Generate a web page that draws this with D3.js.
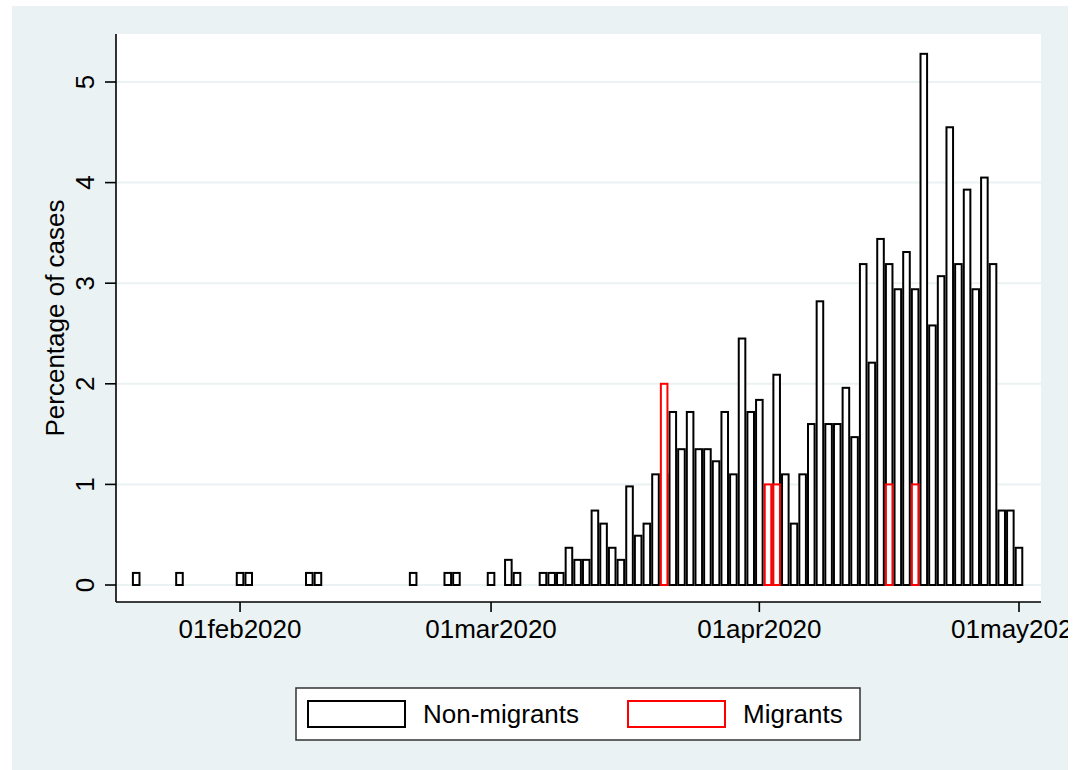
<!DOCTYPE html>
<meta charset="utf-8">
<style>
body { margin: 0; background: #fff; }
svg { display: block; font-family: "Liberation Sans", Arial, Helvetica, sans-serif; }
.grid { stroke: #eaf2f3; stroke-width: 2; }
.axis-line { stroke: #000; stroke-width: 1.6; }
.bar { fill: #fff; stroke-width: 2; }
</style>
<svg width="1068" height="770"></svg>
<script src="https://d3js.org/d3.v7.min.js"></script>
<script>

// daily percentage of cases
var nonMigrantDates = ["2020-01-20","2020-01-25","2020-02-01","2020-02-02","2020-02-09","2020-02-10",
  "2020-02-21","2020-02-25","2020-02-26","2020-03-01","2020-03-03","2020-03-04",
  "2020-03-07","2020-03-08","2020-03-09","2020-03-10","2020-03-11","2020-03-12","2020-03-13",
  "2020-03-14","2020-03-15","2020-03-16","2020-03-17","2020-03-18","2020-03-19","2020-03-20",
  "2020-03-21","2020-03-22","2020-03-23","2020-03-24","2020-03-25","2020-03-26","2020-03-27",
  "2020-03-28","2020-03-29","2020-03-30","2020-03-31","2020-04-01","2020-04-03","2020-04-04",
  "2020-04-05","2020-04-06","2020-04-07","2020-04-08","2020-04-09","2020-04-10","2020-04-11",
  "2020-04-12","2020-04-13","2020-04-14","2020-04-15","2020-04-16","2020-04-17","2020-04-18",
  "2020-04-19","2020-04-20","2020-04-21","2020-04-22","2020-04-23","2020-04-24","2020-04-25",
  "2020-04-26","2020-04-27","2020-04-28","2020-04-29","2020-04-30","2020-05-01"];
var nonMigrantPct = [0.12,0.12,0.12,0.12,0.12,0.12,
  0.12,0.12,0.12,0.12,0.25,0.12,
  0.12,0.12,0.12,0.37,0.25,0.25,0.74,
  0.61,0.37,0.25,0.98,0.49,0.61,1.10,
  1.10,1.72,1.35,1.72,1.35,1.35,1.23,
  1.72,1.10,2.45,1.72,1.84,2.09,1.10,
  0.61,1.10,1.60,2.82,1.60,1.60,1.96,
  1.47,3.19,2.21,3.44,3.19,2.94,3.31,
  2.94,5.28,2.58,3.07,4.55,3.19,3.93,
  2.94,4.05,3.19,0.74,0.74,0.37];

var migrantDates = ["2020-03-21","2020-04-02","2020-04-03","2020-04-16","2020-04-19"];
var migrantPct = [2, 1, 1, 1, 1];

var yTicks = [0, 1, 2, 3, 4, 5];
var xTickDates = ["2020-02-01","2020-03-01","2020-04-01","2020-05-01"];
var xTickLabels = ["01feb2020","01mar2020","01apr2020","01may2020"];

var parse = d3.utcParse("%Y-%m-%d");
var svg = d3.select("svg");

var plot = {left: 116, right: 1041, top: 34, bottom: 602};

var x = d3.scaleUtc()
    .domain([new Date(Date.UTC(2020, 0, 17, 16)), new Date(Date.UTC(2020, 4, 3, 13))])
    .range([plot.left, plot.right]);
var y = d3.scaleLinear().domain([0, 5]).range([585, 82]);

var dayW = x(parse("2020-02-02")) - x(parse("2020-02-01"));
var barW = dayW * 0.76;

// graph region + plot region
svg.append("rect").attr("x", 12).attr("y", 6).attr("width", 1056).attr("height", 764).attr("fill", "#eaf2f3");
svg.append("rect").attr("x", plot.left).attr("y", plot.top)
    .attr("width", plot.right - plot.left).attr("height", plot.bottom - plot.top).attr("fill", "#fff");

svg.selectAll(".grid").data(yTicks).enter().append("line")
    .attr("class", "grid")
    .attr("x1", plot.left).attr("x2", plot.right)
    .attr("y1", function(d) { return y(d); }).attr("y2", function(d) { return y(d); });

function bars(dates, vals, color, cls) {
  var data = dates.map(function(d, i) { return {date: parse(d), v: vals[i]}; });
  svg.selectAll("." + cls).data(data).enter().append("rect")
      .attr("class", "bar " + cls)
      .attr("stroke", color)
      .attr("x", function(d) { return x(d.date) - barW / 2; })
      .attr("y", function(d) { return y(d.v); })
      .attr("width", barW)
      .attr("height", function(d) { return y(0) - y(d.v); });
}
bars(nonMigrantDates, nonMigrantPct, "#000", "nonmig");
bars(migrantDates, migrantPct, "#ff0000", "mig");

// y axis
svg.append("line").attr("class", "axis-line")
    .attr("x1", plot.left).attr("x2", plot.left).attr("y1", plot.top).attr("y2", plot.bottom);
svg.selectAll(".ytick").data(yTicks).enter().append("line")
    .attr("class", "axis-line")
    .attr("x1", 105).attr("x2", plot.left)
    .attr("y1", function(d) { return y(d); }).attr("y2", function(d) { return y(d); });
svg.selectAll(".ylab").data(yTicks).enter().append("text")
    .attr("transform", function(d) { return "translate(94," + y(d) + ") rotate(-90)"; })
    .attr("text-anchor", "middle")
    .attr("font-size", 26)
    .text(function(d) { return d; });
svg.append("text")
    .attr("transform", "translate(64," + ((plot.top + plot.bottom) / 2) + ") rotate(-90)")
    .attr("text-anchor", "middle")
    .attr("font-size", 26)
    .text("Percentage of cases");

// x axis
svg.append("line").attr("class", "axis-line")
    .attr("x1", plot.left).attr("x2", plot.right).attr("y1", plot.bottom).attr("y2", plot.bottom);
svg.selectAll(".xtick").data(xTickDates).enter().append("line")
    .attr("class", "axis-line")
    .attr("x1", function(d) { return x(parse(d)); }).attr("x2", function(d) { return x(parse(d)); })
    .attr("y1", plot.bottom).attr("y2", 612);
svg.selectAll(".xlab").data(xTickDates).enter().append("text")
    .attr("x", function(d) { return x(parse(d)); })
    .attr("y", 638)
    .attr("text-anchor", "middle")
    .attr("font-size", 26)
    .text(function(d, i) { return xTickLabels[i]; });

// legend
var lg = svg.append("g");
lg.append("rect").attr("x", 296).attr("y", 688).attr("width", 564).attr("height", 52)
    .attr("fill", "#fff").attr("stroke", "#333").attr("stroke-width", 1.5);
var items = [{label: "Non-migrants", color: "#000", sx: 308, tx: 423},
             {label: "Migrants", color: "#ff0000", sx: 628, tx: 743}];
items.forEach(function(it) {
  lg.append("rect").attr("x", it.sx).attr("y", 701).attr("width", 97).attr("height", 26)
      .attr("fill", "#fff").attr("stroke", it.color).attr("stroke-width", 2);
  lg.append("text").attr("x", it.tx).attr("y", 723).attr("font-size", 26).text(it.label);
});

</script>
